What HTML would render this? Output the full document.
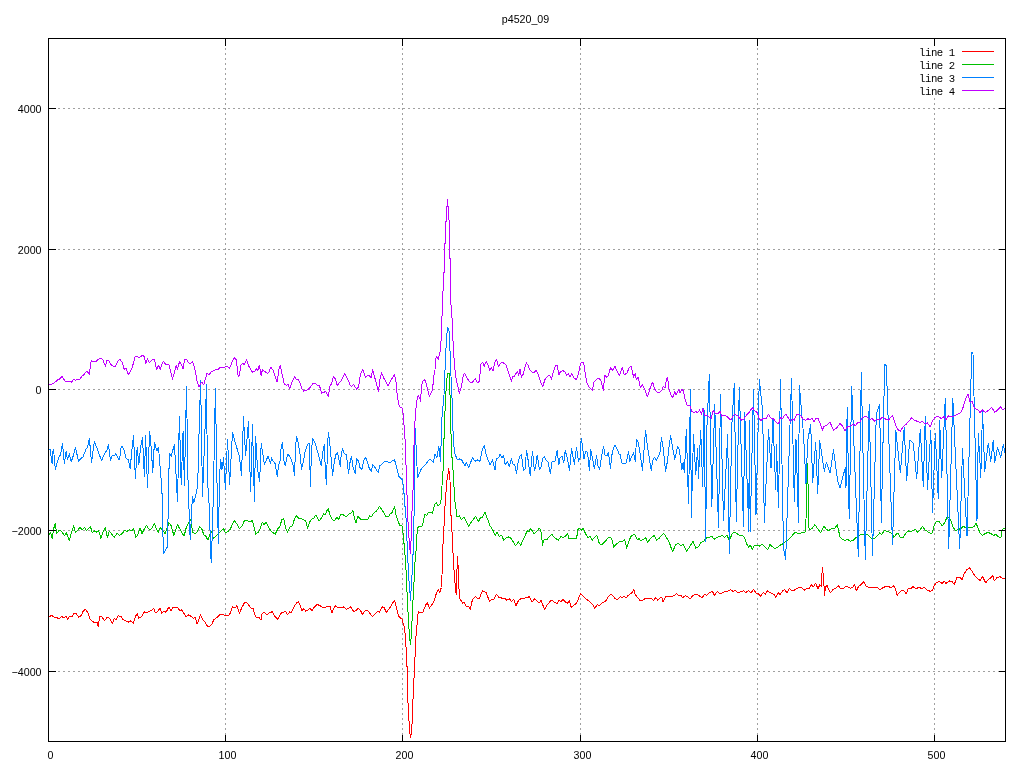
<!DOCTYPE html>
<html><head><meta charset="utf-8"><title>p4520_09</title>
<style>
html,body{margin:0;padding:0;background:#fff;}
body{width:1024px;height:768px;overflow:hidden;position:relative;font-family:"Liberation Sans",sans-serif;}
svg{display:block;position:absolute;left:0;top:0;}
svg.txt{filter:grayscale(1);}
.t{font-family:"Liberation Sans",sans-serif;font-size:10.67px;fill:#000;}
.m{font-family:"Liberation Mono",monospace;font-size:10.67px;fill:#000;letter-spacing:-0.42px;}
.g{stroke:#a0a0a0;stroke-width:1;stroke-dasharray:2 3;fill:none;shape-rendering:crispEdges;}
.f{stroke:#000;stroke-width:1;fill:none;shape-rendering:crispEdges;}
.d{fill:none;stroke-width:1;stroke-linejoin:round;shape-rendering:crispEdges;}
</style></head><body>
<svg width="1024" height="768" viewBox="0 0 1024 768">
<rect x="0" y="0" width="1024" height="768" fill="#fff"/>
<line class="g" x1="225.5" y1="38" x2="225.5" y2="741.5"/>
<line class="g" x1="402.5" y1="38" x2="402.5" y2="741.5"/>
<line class="g" x1="580.5" y1="38" x2="580.5" y2="741.5"/>
<line class="g" x1="757.5" y1="38" x2="757.5" y2="741.5"/>
<line class="g" x1="934.5" y1="38" x2="934.5" y2="741.5"/>
<line class="g" x1="48" y1="108.5" x2="1005.5" y2="108.5"/>
<line class="g" x1="48" y1="249.5" x2="1005.5" y2="249.5"/>
<line class="g" x1="48" y1="389.5" x2="1005.5" y2="389.5"/>
<line class="g" x1="48" y1="530.5" x2="1005.5" y2="530.5"/>
<line class="g" x1="48" y1="671.5" x2="1005.5" y2="671.5"/>
<!--DATA-->
<polyline class="d" stroke="#ff0000" points="49.4,616.6 51.7,615.3 54.1,617.2 56.6,617.6 58.9,618.6 61.5,616.6 63.8,617.6 66.4,616.6 67.7,619.2 69.7,616.2 72.2,616.6 74.2,613.1 76.1,613.7 78.7,617.2 81.0,615.7 83.4,610.8 85.3,609.2 87.9,612.7 89.8,618.6 91.8,620.9 94.7,622.9 97.0,622.5 98.2,626.4 99.6,616.6 101.5,616.6 104.5,620.5 107.4,617.2 109.9,618.6 112.3,623.5 114.2,618.6 116.2,619.6 118.1,615.7 121.1,616.6 123.0,619.6 125.9,620.9 128.3,622.1 130.8,620.9 133.4,623.5 135.3,616.6 137.3,613.7 138.6,618.2 141.6,616.6 144.5,611.8 146.4,612.7 149.4,611.2 152.3,609.8 153.7,608.4 155.2,612.7 157.2,611.8 160.1,607.9 161.5,613.1 164.0,611.2 166.0,612.3 167.9,608.8 169.3,607.3 170.9,611.2 172.8,607.9 174.8,607.3 177.7,607.9 179.6,610.4 181.6,609.8 183.6,612.7 186.1,617.0 188.8,614.7 191.4,616.6 193.3,618.2 195.3,617.6 197.2,624.1 199.2,618.6 200.5,614.7 203.1,620.5 205.0,622.1 207.6,626.4 209.9,626.4 211.9,624.1 213.8,619.6 216.8,617.6 219.7,614.7 222.6,614.3 225.5,615.7 228.5,615.3 230.0,613.7 232.3,606.9 234.9,607.9 236.8,605.9 239.4,613.1 241.7,607.9 244.1,603.4 246.0,602.0 248.0,603.9 250.5,607.9 253.0,608.4 255.0,614.7 256.4,617.6 259.3,617.6 260.9,620.2 262.2,613.1 264.8,612.7 267.1,614.7 270.0,612.3 272.6,611.8 274.9,616.6 277.9,619.6 280.4,613.7 282.7,612.3 285.7,611.8 287.6,614.7 289.6,611.8 291.5,612.3 294.1,606.9 296.4,603.0 298.4,602.0 300.3,605.3 301.9,610.8 303.8,608.4 305.8,611.2 308.1,609.8 310.1,608.4 312.0,610.4 314.4,606.9 316.9,604.5 319.5,605.3 321.8,606.9 323.8,607.9 326.7,606.5 330.0,606.5 332.0,613.1 333.9,607.9 335.5,605.9 338.4,607.9 341.3,607.9 343.7,606.9 346.2,609.2 348.2,608.8 350.7,606.9 353.4,611.2 356.0,610.8 357.9,608.4 360.5,610.4 362.4,614.3 364.8,611.2 367.1,609.8 369.6,613.1 372.2,616.6 374.5,614.3 377.5,611.2 379.4,612.3 382.3,606.9 384.3,607.9 386.2,612.3 389.2,608.8 391.7,604.5 394.5,600.6 396.0,605.9 397.6,613.1 399.5,617.6 401.9,618.6 402.2,619.8 404.4,627.5 405.6,637.5 406.2,651.2 407.2,670.0 407.5,692.5 408.5,713.1 409.5,728.8 410.4,737.8 411.2,733.8 412.2,721.9 412.8,703.8 413.8,682.5 414.8,660.0 415.0,657.5 415.6,640.0 416.9,627.5 417.5,616.2 418.5,611.2 420.0,613.1 423.1,611.9 425.6,605.0 427.2,602.5 429.4,608.1 432.5,603.8 434.4,600.6 436.2,593.8 438.1,589.4 440.0,592.5 440.6,589.4 441.5,587.5 441.9,580.0 442.5,553.8 443.5,535.0 444.4,518.8 445.2,501.9 447.0,480.0 448.8,468.8 450.0,480.0 450.2,500.0 451.2,518.8 452.1,533.8 453.1,555.0 454.0,570.0 455.0,582.5 456.0,593.1 456.5,594.4 456.9,586.2 456.9,572.5 457.5,556.9 458.1,566.2 458.5,580.0 459.4,596.0 460.0,598.8 462.5,603.1 464.4,602.5 466.2,606.2 468.8,606.9 470.2,609.4 472.5,599.4 475.6,596.2 477.5,598.5 479.4,598.5 482.5,590.6 486.2,592.5 489.4,601.2 491.9,599.4 493.8,599.4 496.5,594.4 498.8,597.2 500.6,597.5 502.3,598.6 504.9,598.2 506.8,600.2 509.4,598.6 511.3,601.5 513.7,599.6 516.0,605.4 518.6,600.5 521.5,598.2 524.4,598.2 527.3,597.6 529.3,596.6 532.2,602.1 534.8,598.6 537.1,600.9 539.1,602.9 541.0,600.5 544.5,609.3 546.9,605.4 550.4,600.9 552.7,600.9 555.1,602.5 557.0,604.1 558.6,600.5 560.9,601.5 562.9,599.6 565.4,602.1 567.4,603.5 569.3,600.9 571.3,607.4 573.8,605.4 576.6,602.9 578.5,598.6 580.5,593.7 582.4,595.7 585.0,598.2 587.9,600.2 590.8,602.9 593.4,605.4 594.7,608.4 597.3,604.8 599.6,605.4 602.5,602.5 605.5,601.5 608.4,596.6 610.9,594.3 612.9,595.7 615.2,598.6 617.6,599.6 620.1,596.6 622.1,597.6 624.0,596.2 626.0,598.2 627.9,595.7 630.5,593.7 632.4,592.3 633.8,589.4 635.2,594.3 637.7,597.6 640.2,600.9 642.6,600.5 645.5,598.2 648.4,598.6 651.4,598.2 653.3,600.5 655.9,597.6 657.8,600.2 659.8,598.2 661.7,597.0 663.1,602.1 665.6,596.6 668.4,596.2 670.9,596.6 673.8,595.7 676.8,593.7 678.7,595.7 680.7,595.1 682.6,597.6 685.5,595.7 687.9,596.6 690.0,599.3 692.9,595.4 695.9,594.1 698.8,595.4 702.1,598.0 704.6,594.1 706.6,595.4 709.5,592.5 712.5,591.5 714.4,595.4 717.3,591.5 719.3,593.5 722.2,592.9 725.2,591.5 728.1,590.9 730.6,589.6 733.0,591.5 735.3,590.2 737.9,592.9 740.8,591.5 743.7,590.9 745.7,592.5 748.6,590.5 750.9,592.9 753.5,589.6 756.0,592.9 758.4,593.5 760.3,596.4 763.2,592.5 765.2,594.5 767.7,590.5 769.7,592.5 772.0,593.5 774.4,594.5 775.9,597.4 778.3,592.9 780.2,594.5 782.8,590.5 784.7,589.6 787.1,592.9 789.2,588.6 791.6,590.2 793.5,590.9 796.4,588.6 799.4,587.6 801.7,587.6 804.3,590.2 806.8,588.2 809.1,588.6 811.1,584.7 813.4,586.6 815.6,583.3 817.9,588.6 819.9,584.7 821.2,586.6 822.4,567.1 823.2,574.9 823.8,580.8 824.4,595.4 825.7,586.6 827.1,585.7 829.1,590.5 830.6,592.9 833.0,589.6 835.5,588.2 838.4,585.7 840.8,589.0 843.3,588.6 845.3,586.6 847.8,587.0 850.2,588.2 852.5,587.6 854.5,584.7 856.4,590.9 858.4,586.6 860.9,584.7 863.4,581.8 863.5,581.5 866.0,586.0 868.9,587.4 871.9,587.4 874.8,587.4 877.1,587.0 879.7,589.9 882.6,588.0 885.5,586.4 888.5,586.8 891.4,587.4 893.3,585.4 895.3,588.4 897.2,595.2 899.8,592.3 902.1,589.9 904.5,591.3 906.0,594.2 908.4,588.0 910.9,588.4 912.9,586.4 915.8,588.8 918.7,587.4 921.7,588.4 924.6,587.4 927.5,590.3 930.4,591.3 932.4,590.3 934.4,585.4 936.3,582.5 939.2,581.5 942.2,583.5 944.1,580.9 946.1,583.5 949.0,580.9 951.9,581.5 954.3,584.5 956.8,577.6 959.7,577.0 962.3,579.6 964.2,573.7 966.6,569.8 969.5,567.9 972.0,571.2 974.8,575.7 977.3,578.2 980.2,580.5 982.6,576.6 985.7,582.9 988.1,579.6 991.0,577.6 992.9,575.7 994.3,580.9 996.9,577.6 999.8,576.6 1002.7,578.2 1004.7,578.2"/>
<polyline class="d" stroke="#00c000" points="49.4,534.5 50.7,532.5 52.1,538.8 53.7,528.6 55.2,523.1 56.6,533.5 58.6,530.9 60.5,530.5 62.5,532.5 64.4,536.0 66.4,532.9 69.3,540.3 71.2,533.5 73.6,525.7 75.5,532.5 78.1,529.6 80.0,527.6 82.0,529.6 84.5,527.6 86.5,530.5 88.4,528.6 90.4,526.6 92.3,532.5 94.7,530.9 96.6,532.1 98.6,530.5 100.9,538.4 102.9,532.5 105.4,527.6 107.4,537.4 109.3,531.5 111.3,533.5 114.2,537.4 117.1,533.5 119.7,535.4 122.0,533.5 125.0,530.2 126.9,531.5 129.5,529.6 131.8,530.9 133.8,528.6 135.7,537.4 137.7,535.4 140.0,527.6 142.0,533.5 144.5,528.6 146.4,525.1 148.4,528.6 150.4,529.6 152.3,527.6 154.3,523.1 156.2,528.6 158.2,532.5 160.1,527.6 162.1,529.6 165.0,533.5 167.0,528.6 168.9,522.7 171.2,525.7 173.8,535.4 175.7,529.6 177.7,524.7 179.6,528.6 182.2,533.5 184.1,536.0 186.5,526.6 188.8,522.7 190.8,519.8 192.7,532.5 195.3,533.5 197.2,532.1 199.8,526.6 201.7,528.6 203.7,534.5 206.0,536.4 208.0,540.3 209.9,534.5 211.9,531.5 213.4,538.4 215.8,536.4 218.7,533.5 221.2,530.5 223.6,528.6 225.5,532.9 227.5,531.5 229.5,530.5 230.0,529.6 232.3,524.7 234.3,520.8 236.8,523.7 239.4,528.6 241.7,526.6 244.1,521.2 246.0,519.8 248.0,521.2 250.5,521.2 252.5,520.8 254.4,528.6 255.8,534.1 258.3,532.1 260.3,528.6 262.2,522.3 264.2,524.7 266.1,522.3 268.7,527.6 271.0,530.9 273.4,532.9 275.3,534.1 277.9,528.6 279.8,526.6 281.8,519.8 283.7,518.4 285.7,528.6 287.6,532.1 290.2,526.6 292.5,525.7 294.5,518.8 296.4,515.9 298.8,518.4 301.3,518.8 303.8,519.8 305.8,521.2 307.7,528.2 310.1,521.2 312.0,518.8 314.0,517.9 315.9,514.9 318.9,521.2 321.4,517.9 323.4,513.9 325.3,514.5 326.7,511.0 328.2,508.7 330.0,514.9 332.5,519.8 334.5,520.8 337.0,516.9 338.4,519.8 340.9,514.5 343.3,514.9 346.2,516.5 349.1,513.9 351.5,512.6 353.0,510.6 354.6,518.8 356.0,523.1 357.9,515.9 359.9,518.8 362.8,519.8 365.7,519.2 367.7,519.8 369.6,515.9 371.6,516.5 373.6,513.4 376.5,511.0 379.4,506.5 381.4,509.1 383.3,512.0 385.9,516.5 388.2,516.9 390.2,513.9 392.1,512.6 394.5,506.5 396.0,514.9 398.0,521.2 399.9,525.7 401.9,525.7 401.9,525.6 403.1,533.8 404.4,547.5 405.6,562.5 406.5,580.0 407.2,596.0 407.5,602.5 408.5,621.2 409.5,636.2 410.4,644.8 411.2,637.5 411.9,623.8 412.8,603.8 413.8,583.8 414.4,580.0 415.0,562.5 416.2,548.8 416.9,535.0 418.1,526.9 420.0,526.9 421.9,526.2 423.1,522.5 425.0,513.8 426.9,515.6 428.1,512.5 430.0,511.9 432.5,513.1 434.4,505.0 436.2,502.5 438.1,505.6 440.0,503.8 441.0,500.0 443.4,466.0 443.8,445.0 444.6,420.0 445.6,398.1 446.6,381.9 447.5,373.5 449.5,373.5 449.8,381.9 450.0,395.0 450.6,407.5 450.9,431.2 451.9,456.2 452.8,466.0 454.8,500.0 455.6,506.2 456.9,516.2 457.4,516.9 459.4,515.9 461.3,519.8 464.1,517.3 466.6,521.8 468.6,526.2 471.5,521.8 473.8,518.8 475.8,516.3 478.3,521.8 480.9,516.9 482.2,517.9 484.8,512.0 487.1,517.9 490.0,525.7 493.0,530.5 495.3,535.4 496.9,532.1 499.2,536.4 501.8,535.4 503.7,540.3 506.2,538.0 509.0,536.8 511.5,538.8 515.4,545.8 518.4,541.9 520.7,545.2 522.7,540.3 525.2,535.4 527.1,530.9 529.1,531.5 530.7,528.2 534.0,534.1 536.9,530.9 539.5,528.2 541.4,532.5 542.4,545.2 544.1,539.3 546.7,539.9 549.6,536.4 551.6,534.1 554.5,537.4 557.0,539.3 558.4,540.3 560.9,536.4 563.3,537.4 565.6,536.0 567.6,533.5 569.1,538.8 572.1,538.4 576.6,538.4 577.9,529.6 579.3,528.2 581.2,530.5 583.2,528.2 585.2,532.9 587.7,537.4 590.2,536.4 592.2,540.3 594.5,537.4 596.9,535.4 599.4,543.8 602.0,544.6 605.3,541.3 607.8,538.0 610.2,537.4 611.7,538.4 613.7,547.1 616.4,544.2 619.9,541.3 622.9,541.3 624.8,539.9 626.8,548.1 628.7,541.3 631.2,536.0 634.6,534.1 637.1,539.3 639.5,538.8 640.0,540.3 642.9,539.9 645.5,537.4 647.8,542.3 650.7,538.4 654.1,535.4 656.6,540.3 659.5,538.0 661.9,534.8 663.8,533.5 666.4,537.4 669.3,542.3 671.2,548.1 672.8,552.0 675.2,545.2 678.1,543.2 681.0,546.2 683.0,544.2 686.5,551.1 688.8,548.1 691.2,544.2 693.1,541.3 695.7,548.1 698.6,546.6 700.9,542.3 703.5,541.3 706.4,538.0 709.3,537.4 711.9,536.4 714.2,539.3 717.1,537.4 720.1,536.4 722.0,535.4 724.4,537.4 726.9,535.4 729.5,540.3 731.8,534.5 734.1,532.1 736.7,533.5 739.6,535.4 742.5,535.4 744.5,537.4 746.4,543.2 748.4,547.1 750.4,545.2 752.3,549.1 754.3,545.2 757.2,545.2 760.1,546.2 762.1,543.8 765.0,547.1 767.9,549.7 769.9,544.2 772.8,547.1 774.8,548.5 777.7,547.1 780.2,545.2 782.2,544.2 784.1,542.3 786.5,541.3 789.4,538.8 792.3,535.4 795.3,532.1 798.2,533.5 801.1,532.9 805.0,532.1 806.0,518.8 806.6,489.5 807.4,463.0 808.2,489.5 808.6,518.8 809.1,529.6 811.9,528.6 814.8,524.7 817.7,528.6 820.7,532.9 823.6,526.6 824.0,525.7 826.3,529.6 828.9,530.5 831.8,528.6 834.7,528.2 837.3,524.7 838.6,530.5 840.0,537.4 842.6,539.3 845.1,540.7 847.4,539.3 850.4,541.3 853.3,540.3 856.2,537.4 858.8,535.4 862.1,534.5 865.0,534.1 867.9,534.8 870.9,538.0 873.8,538.8 876.7,536.4 879.7,532.9 881.6,534.5 884.5,530.2 886.9,531.5 889.4,532.1 892.0,533.5 893.9,537.4 896.3,534.1 898.2,533.5 900.6,538.0 903.1,537.4 905.6,533.5 908.0,530.9 910.9,531.5 913.5,530.2 915.8,529.6 917.8,532.5 920.1,529.6 922.6,526.6 925.2,530.2 927.5,531.5 930.4,533.5 932.4,532.9 934.4,524.7 936.3,521.8 939.2,521.8 942.2,525.7 944.7,522.7 946.7,517.9 949.0,516.9 951.0,521.2 952.9,526.6 955.2,530.5 957.8,529.6 960.7,528.6 963.1,526.2 965.6,527.6 968.5,527.2 971.5,527.6 974.0,526.6 976.0,523.1 978.3,528.6 980.2,533.5 982.6,535.4 985.1,533.5 988.1,532.5 991.0,533.5 993.5,535.4 995.9,534.5 998.2,536.8 1000.8,538.0 1002.1,529.6 1004.7,528.2"/>
<polyline class="d" stroke="#0080ff" points="48.5,449.8 50.2,449.4 52.1,463.8 53.1,449.4 54.0,454.4 55.4,469.8 57.1,462.5 58.8,457.5 60.6,454.4 62.5,443.5 64.4,463.8 66.2,451.2 67.5,460.0 69.4,453.8 71.2,461.9 73.1,456.2 75.4,447.2 78.5,461.2 81.9,457.5 83.1,456.9 85.6,450.0 87.5,446.9 89.4,438.5 91.5,462.5 94.4,441.2 96.2,446.2 101.5,460.6 105.0,453.1 106.9,450.0 108.5,444.4 110.4,460.6 112.2,455.0 114.0,456.2 115.6,453.8 117.5,456.9 119.4,460.0 121.2,446.9 122.5,446.5 124.4,451.2 126.2,458.8 128.1,459.4 130.2,468.5 131.9,450.0 133.5,435.6 135.4,478.5 137.2,447.5 138.8,465.0 140.6,447.5 142.5,437.5 144.4,476.9 145.6,435.6 147.5,487.5 149.6,431.5 150.6,439.8 152.8,472.2 154.4,442.2 156.9,451.0 158.5,447.2 161.9,488.5 163.4,553.5 167.5,546.6 168.8,477.2 169.4,453.5 171.2,456.6 174.4,444.1 176.2,477.2 177.5,501.6 179.4,416.2 181.2,484.8 183.1,431.0 184.4,485.4 186.5,387.0 188.1,484.8 190.2,539.8 191.9,506.0 192.5,496.6 193.8,502.2 196.9,491.0 198.1,472.2 198.8,441.0 200.6,380.4 202.5,496.6 204.6,441.0 206.5,385.0 207.5,481.0 209.4,508.5 210.6,551.0 211.2,562.9 212.5,528.5 213.5,487.2 215.4,388.2 217.5,511.0 218.5,543.5 219.4,479.8 220.6,459.1 221.9,469.8 223.5,457.9 225.4,489.1 227.5,439.1 229.6,484.8 232.5,432.2 236.2,446.0 239.4,456.0 241.5,475.4 243.5,417.0 245.6,456.0 248.5,421.2 250.6,491.6 252.5,425.0 254.4,501.6 255.6,436.2 257.5,468.5 259.6,481.6 261.2,443.2 264.4,464.8 268.1,456.0 270.6,463.5 271.5,457.5 273.1,461.2 275.2,463.8 277.2,476.5 278.5,465.6 280.0,461.2 281.2,446.9 282.5,442.5 283.8,460.0 285.2,465.6 287.5,454.4 289.4,455.6 291.2,459.4 293.1,465.0 294.5,475.6 295.6,446.2 296.5,436.5 298.1,442.5 300.0,453.8 301.5,469.4 303.1,462.5 305.0,452.5 306.5,446.9 308.1,443.5 309.4,443.5 310.4,486.5 311.5,450.0 312.8,438.5 315.0,443.1 317.5,451.2 319.4,458.8 321.2,465.6 323.1,450.0 324.4,444.4 325.4,472.5 326.5,484.8 327.5,445.0 328.5,432.2 329.8,443.8 331.2,458.8 332.5,475.6 334.4,461.2 336.0,454.4 337.5,452.5 338.8,458.8 340.2,466.2 341.2,455.0 342.5,448.1 344.4,453.8 346.2,454.4 347.5,463.8 348.5,473.5 350.0,462.5 351.5,456.5 353.1,467.5 355.2,473.5 356.6,458.5 358.5,461.2 360.0,467.5 361.9,469.4 363.8,460.6 365.6,457.5 367.5,462.5 369.4,468.8 371.2,471.2 372.8,464.4 375.0,467.5 378.1,472.5 379.8,465.6 380.0,466.2 385.0,461.2 390.0,462.5 394.5,459.5 398.8,476.2 402.5,480.0 403.8,490.0 404.4,500.0 405.6,512.5 406.5,525.0 407.3,550.0 408.1,565.0 409.0,581.0 410.0,592.5 410.4,600.6 411.3,586.0 412.3,570.0 413.1,552.5 413.8,525.0 414.4,500.0 415.0,427.5 416.3,450.0 417.5,478.0 421.3,468.8 425.0,465.0 430.0,458.8 433.3,462.5 435.0,453.8 437.0,457.5 438.8,446.3 440.5,461.3 442.0,417.5 444.0,395.0 444.8,376.0 445.6,355.0 446.6,337.5 447.5,327.3 448.5,329.4 449.5,332.5 449.5,350.0 450.5,352.5 450.5,370.0 451.5,382.5 452.3,406.3 452.9,428.8 453.8,445.0 455.0,453.8 457.1,459.4 459.4,459.0 461.3,459.4 463.1,462.5 465.0,466.0 466.3,462.5 468.8,467.5 472.5,457.5 475.0,461.3 477.5,460.0 480.0,461.3 481.3,455.0 482.5,448.8 484.3,445.0 486.3,455.0 490.0,465.0 492.5,460.0 495.0,470.0 496.3,458.8 498.8,457.5 500.0,453.8 501.9,457.5 503.5,455.6 505.2,465.0 507.2,461.5 509.4,466.2 511.5,458.8 513.1,464.4 514.8,465.0 516.5,473.5 518.5,460.0 520.0,456.2 521.5,454.4 523.5,470.6 525.0,469.4 526.5,450.2 528.1,460.0 530.2,475.6 532.5,451.2 534.4,470.6 535.6,467.5 537.2,455.0 539.4,469.4 541.2,466.9 542.8,458.1 544.4,456.9 546.2,460.6 548.1,461.9 550.4,473.5 552.2,461.2 555.0,461.0 557.2,450.6 558.8,465.0 560.0,458.1 561.9,456.2 563.8,462.5 565.2,450.6 567.5,458.8 569.5,470.6 571.5,448.5 574.4,464.4 576.5,447.5 578.5,461.2 580.0,458.1 581.2,438.1 582.5,446.2 584.0,459.4 585.6,451.2 587.5,452.5 589.4,470.6 590.6,449.4 592.5,458.8 594.4,468.5 596.5,455.6 598.1,466.2 599.6,469.4 601.2,458.8 603.5,446.5 605.0,455.0 606.9,455.6 608.5,452.5 610.4,468.5 611.9,455.0 613.5,448.1 615.2,445.2 617.5,450.0 619.4,455.0 620.0,454.4 622.2,463.8 626.2,463.1 628.5,451.2 629.8,461.2 633.5,452.5 635.2,461.2 636.5,439.4 638.5,443.1 642.5,470.6 643.8,452.5 645.6,430.2 646.9,442.5 651.2,470.6 652.8,460.0 654.4,457.5 656.5,460.0 659.8,453.8 661.5,437.2 663.1,447.5 665.6,471.2 667.2,462.5 669.0,447.5 670.6,435.4 672.5,447.5 674.8,459.4 677.5,446.5 679.4,450.0 681.9,469.4 683.1,462.5 684.4,472.5 686.3,429.2 688.5,503.8 690.5,389.2 691.3,517.7 693.5,434.2 695.7,474.7 697.7,448.3 698.5,478.8 700.7,430.0 702.7,486.3 704.0,408.3 705.7,541.3 706.8,430.0 709.3,374.2 711.8,506.3 714.7,404.2 718.5,527.7 720.5,395.0 723.5,520.5 727.7,434.2 729.3,553.3 731.8,425.8 734.3,383.0 736.3,521.3 739.3,387.2 743.5,526.3 744.7,412.0 748.8,531.3 749.3,420.8 750.2,531.3 753.5,389.2 756.0,514.7 759.3,379.2 762.7,411.7 764.3,522.2 768.5,429.2 771.0,468.0 773.0,419.2 775.7,489.7 776.5,445.0 778.5,507.2 780.5,379.2 783.5,548.0 785.7,559.3 791.5,378.3 794.3,501.3 796.0,439.2 798.5,522.7 799.3,385.0 803.5,434.2 806.0,483.8 807.7,440.8 810.7,424.2 812.7,482.2 815.7,442.0 817.7,493.3 819.7,440.8 824.3,471.3 826.5,462.5 830.2,473.0 833.5,450.0 837.7,481.3 840.0,488.0 845.3,467.5 846.0,487.5 847.2,407.0 849.2,518.8 851.7,386.3 858.3,556.7 861.3,372.0 865.3,559.3 869.2,404.2 872.5,555.5 876.3,414.2 879.7,404.2 881.3,522.2 884.7,364.2 886.3,365.8 892.5,544.7 895.8,430.0 900.3,473.0 904.2,427.5 906.7,480.5 909.7,440.0 913.3,443.3 916.7,478.8 920.3,429.2 923.3,486.3 925.3,416.3 927.5,489.3 930.8,430.0 932.5,512.7 935.3,433.3 938.3,498.8 939.7,420.8 941.7,478.0 945.3,398.0 948.7,548.8 952.8,398.3 959.7,548.8 962.5,448.3 967.0,536.3 971.7,352.0 973.0,354.2 977.0,520.5 978.3,433.0 980.8,477.2 982.5,410.0 984.7,471.3 988.3,443.3 990.8,461.3 993.3,440.0 994.7,463.0 997.5,447.5 1000.8,457.2 1003.3,444.2 1005.0,453.0"/>
<polyline class="d" stroke="#c000ff" points="48.8,384.7 50.2,384.5 52.1,384.1 54.6,382.6 57.6,380.0 59.5,379.1 62.1,376.3 65.0,381.0 67.3,382.0 69.3,381.0 71.2,382.2 73.6,379.6 75.2,380.2 77.1,379.5 80.0,379.1 82.0,376.1 83.4,375.7 85.3,372.2 87.5,371.8 89.2,374.2 91.2,360.3 93.1,361.5 95.7,361.9 98.6,359.1 101.5,358.4 102.9,359.9 105.4,366.4 106.8,360.3 108.8,360.3 110.7,364.4 113.2,366.4 115.2,366.8 117.7,361.1 119.7,359.1 122.0,362.1 124.4,369.7 125.9,368.3 128.3,374.6 131.8,368.9 135.1,357.0 136.7,356.4 138.6,357.6 140.6,356.6 142.9,355.2 144.5,357.2 145.7,363.8 147.4,358.6 149.4,362.5 151.7,360.3 154.3,359.1 156.6,369.3 158.6,365.4 160.1,369.3 162.1,363.4 163.6,361.5 166.0,365.0 168.9,364.4 172.4,379.1 174.8,371.2 176.1,365.4 177.3,369.3 179.6,361.5 181.6,365.4 183.2,368.9 184.5,359.1 186.9,360.1 188.8,363.0 191.4,363.0 192.7,361.5 195.3,371.2 197.2,382.0 199.2,386.9 200.5,383.4 201.7,382.0 203.7,384.9 207.0,373.2 208.9,374.6 211.9,371.2 213.8,370.9 215.8,369.3 217.7,369.7 220.7,367.0 224.6,367.3 226.9,366.4 229.5,368.3 230.0,367.3 232.3,361.5 234.3,357.6 236.2,359.5 238.2,376.1 239.4,375.2 240.7,365.4 242.7,363.0 244.1,365.0 246.6,359.5 248.0,364.4 250.5,369.3 252.5,372.2 254.4,371.8 256.4,368.3 257.7,370.9 259.3,365.4 261.2,376.1 262.4,369.3 264.8,371.6 267.1,373.2 268.7,372.8 270.6,367.3 273.0,369.7 275.9,379.1 277.3,382.0 278.8,369.3 280.4,365.4 281.8,373.2 284.3,383.9 286.6,385.3 288.0,384.5 289.6,388.8 292.1,382.0 294.5,376.5 296.4,380.0 298.4,379.6 300.3,383.9 301.9,388.8 303.8,391.2 306.2,390.4 308.1,389.8 310.5,386.9 313.0,383.4 315.0,383.4 316.9,384.9 319.5,385.9 321.8,393.1 323.8,392.7 325.7,391.2 328.2,396.2 330.0,385.9 331.6,383.9 333.5,376.5 335.5,379.1 337.4,385.9 339.8,382.0 341.7,380.0 344.8,373.6 347.2,378.1 350.1,384.9 351.5,386.9 353.6,384.5 356.6,389.2 358.5,386.9 360.5,374.2 362.8,369.7 365.4,377.1 369.1,374.8 371.0,378.1 372.6,369.7 374.9,378.1 378.4,391.2 380.0,379.1 381.6,372.8 384.3,379.1 388.2,385.9 391.1,380.0 394.5,374.2 396.0,382.0 396.2,386.2 397.5,396.9 399.4,406.9 401.9,407.5 403.1,413.8 404.0,425.0 405.2,441.2 407.2,500.0 408.1,525.0 409.0,537.5 410.0,550.0 410.4,553.1 411.2,537.5 411.9,512.5 412.8,500.0 413.8,451.2 414.6,427.5 415.6,411.2 416.9,400.0 418.1,395.6 419.4,397.5 420.6,401.2 421.5,386.2 423.1,380.6 425.0,379.8 426.2,383.8 429.4,396.2 432.5,390.0 433.8,376.2 435.0,370.0 435.2,360.0 436.5,356.2 438.1,359.4 440.6,350.0 441.5,330.0 442.5,302.5 443.5,280.0 443.5,286.0 443.5,272.5 444.5,272.5 444.5,243.1 445.5,243.1 445.5,221.2 446.5,221.2 446.5,206.9 447.2,206.9 447.5,200.0 448.0,206.9 448.8,206.9 448.8,220.0 449.8,220.0 449.8,258.8 450.8,258.8 450.8,286.0 450.8,280.0 450.8,305.0 451.5,305.0 452.5,330.0 453.5,351.2 454.5,365.0 455.6,376.0 455.6,376.2 457.5,385.0 459.4,393.4 461.2,387.5 463.1,376.2 464.6,373.1 466.2,376.2 466.6,377.1 469.5,382.0 472.5,382.0 475.4,378.7 477.7,383.0 479.3,381.4 480.9,364.4 482.8,362.5 484.2,366.4 486.1,361.5 488.1,365.4 489.6,370.3 491.4,367.3 493.0,371.2 494.5,363.0 496.5,359.5 498.4,366.4 500.8,363.0 502.7,362.5 505.7,364.4 508.6,373.2 511.5,381.0 512.5,376.5 514.5,376.1 517.4,371.2 518.8,375.2 519.9,368.9 521.3,377.1 523.2,374.2 524.8,367.3 526.6,363.0 528.1,365.4 530.1,370.3 532.0,372.2 534.0,372.8 535.9,370.3 538.3,374.2 540.2,381.0 542.8,386.9 544.7,380.0 547.7,376.1 549.6,375.5 551.6,379.1 553.5,371.2 555.5,365.4 557.4,365.4 558.8,374.8 560.7,371.2 563.3,370.9 565.2,372.2 566.8,375.2 568.2,373.6 570.1,377.1 571.5,373.6 574.0,378.1 576.6,379.6 578.5,373.2 580.5,363.4 581.8,362.5 583.8,363.0 585.2,373.2 586.7,382.0 588.7,386.9 590.6,388.4 592.2,390.4 594.1,382.0 596.5,379.1 598.8,378.1 600.8,380.6 603.3,390.4 604.7,375.2 606.2,377.1 608.2,376.1 610.5,367.7 612.5,370.3 615.0,366.4 617.6,372.2 619.5,375.2 622.3,367.3 624.2,374.8 626.8,373.2 629.3,367.7 631.2,366.4 633.6,377.1 635.2,373.6 636.5,380.0 638.1,377.1 640.4,387.9 642.3,384.9 644.9,389.8 647.4,396.6 650.2,387.9 652.7,382.0 654.6,388.8 657.2,392.3 659.1,393.1 661.5,390.8 663.4,386.5 665.0,387.9 666.4,380.0 667.5,377.1 668.9,388.8 671.2,395.7 672.8,397.6 674.8,391.8 676.1,394.7 678.7,389.8 680.0,392.7 682.0,388.8 683.4,391.2 685.3,400.5 687.3,405.4 689.8,405.4 691.8,411.3 693.7,412.7 695.7,411.3 697.6,412.7 699.6,409.9 701.5,414.2 702.9,408.8 704.8,415.2 707.4,415.2 709.3,417.1 711.3,418.1 713.2,410.3 715.2,413.2 718.1,413.8 720.1,411.3 721.6,416.2 724.0,415.2 726.9,416.6 729.5,419.1 730.8,420.1 732.8,416.2 734.7,414.6 737.7,415.8 739.6,418.1 741.6,420.1 743.5,419.7 746.4,415.2 749.4,412.3 752.3,407.4 754.3,410.3 757.2,412.7 759.1,418.1 761.1,421.1 763.0,418.1 766.0,419.1 768.5,414.2 770.9,418.1 773.8,419.1 776.7,423.0 778.7,423.6 780.6,417.1 782.2,419.1 784.5,415.2 786.1,414.2 788.4,418.1 790.4,422.0 792.3,419.1 794.3,420.1 796.2,415.2 798.2,414.2 800.5,415.2 803.1,419.1 805.6,420.1 808.0,418.7 809.9,419.7 812.3,418.5 813.8,422.0 815.8,418.7 818.1,418.7 820.1,423.0 822.6,430.2 824.0,426.3 826.9,425.0 829.9,422.0 833.4,430.2 836.7,427.9 840.0,423.6 842.6,425.9 845.1,430.8 847.4,426.9 850.4,425.9 853.3,424.0 855.2,425.9 858.2,422.0 860.1,422.0 862.1,418.1 865.0,416.2 867.4,417.1 869.9,419.7 871.9,418.5 874.4,421.1 877.1,419.1 879.7,419.7 882.6,417.1 885.5,419.1 888.5,420.1 892.4,415.2 894.7,422.0 897.2,428.9 900.2,431.4 903.1,426.9 906.0,424.4 909.0,421.1 911.5,417.7 913.8,420.1 916.8,421.1 919.7,422.4 922.6,421.6 924.6,423.6 927.5,423.0 930.4,426.9 932.4,421.1 935.3,417.1 938.3,416.6 941.2,418.5 944.1,416.6 946.1,420.1 948.0,415.8 951.0,417.1 953.9,416.2 956.8,414.6 960.7,412.7 963.1,407.4 965.6,398.6 968.1,394.3 970.1,402.5 972.4,401.5 974.4,408.4 977.3,409.3 980.2,412.7 982.2,409.9 985.1,412.3 989.0,410.3 991.6,407.4 994.9,412.3 997.8,409.9 1000.8,406.4 1002.7,409.9 1004.7,408.4"/>
<rect x="916" y="46" width="82" height="50" fill="#fff"/>
<line class="f" x1="225.5" y1="38.5" x2="225.5" y2="45.5"/>
<line class="f" x1="225.5" y1="741.5" x2="225.5" y2="734.5"/>
<line class="f" x1="402.5" y1="38.5" x2="402.5" y2="45.5"/>
<line class="f" x1="402.5" y1="741.5" x2="402.5" y2="734.5"/>
<line class="f" x1="580.5" y1="38.5" x2="580.5" y2="45.5"/>
<line class="f" x1="580.5" y1="741.5" x2="580.5" y2="734.5"/>
<line class="f" x1="757.5" y1="38.5" x2="757.5" y2="45.5"/>
<line class="f" x1="757.5" y1="741.5" x2="757.5" y2="734.5"/>
<line class="f" x1="934.5" y1="38.5" x2="934.5" y2="45.5"/>
<line class="f" x1="934.5" y1="741.5" x2="934.5" y2="734.5"/>
<line class="f" x1="48.5" y1="108.5" x2="55.5" y2="108.5"/>
<line class="f" x1="1005.5" y1="108.5" x2="998.5" y2="108.5"/>
<line class="f" x1="48.5" y1="249.5" x2="55.5" y2="249.5"/>
<line class="f" x1="1005.5" y1="249.5" x2="998.5" y2="249.5"/>
<line class="f" x1="48.5" y1="389.5" x2="55.5" y2="389.5"/>
<line class="f" x1="1005.5" y1="389.5" x2="998.5" y2="389.5"/>
<line class="f" x1="48.5" y1="530.5" x2="55.5" y2="530.5"/>
<line class="f" x1="1005.5" y1="530.5" x2="998.5" y2="530.5"/>
<line class="f" x1="48.5" y1="671.5" x2="55.5" y2="671.5"/>
<line class="f" x1="1005.5" y1="671.5" x2="998.5" y2="671.5"/>
<line x1="962" y1="51.5" x2="994" y2="51.5" stroke="#ff0000" stroke-width="1" shape-rendering="crispEdges"/>
<line x1="962" y1="64.5" x2="994" y2="64.5" stroke="#00c000" stroke-width="1" shape-rendering="crispEdges"/>
<line x1="962" y1="77.5" x2="994" y2="77.5" stroke="#0080ff" stroke-width="1" shape-rendering="crispEdges"/>
<line x1="962" y1="90.5" x2="994" y2="90.5" stroke="#c000ff" stroke-width="1" shape-rendering="crispEdges"/>
<rect class="f" x="48.5" y="38.5" width="957.0" height="703.0"/>
</svg>
<svg class="txt" width="1024" height="768" viewBox="0 0 1024 768">
<text class="t" x="525.5" y="23" text-anchor="middle">p4520_09</text>
<text class="t" x="50.5" y="759" text-anchor="middle">0</text>
<text class="t" x="227.5" y="759" text-anchor="middle">100</text>
<text class="t" x="404.5" y="759" text-anchor="middle">200</text>
<text class="t" x="582.5" y="759" text-anchor="middle">300</text>
<text class="t" x="759.5" y="759" text-anchor="middle">400</text>
<text class="t" x="936.5" y="759" text-anchor="middle">500</text>
<text class="t" x="41.5" y="113.0" text-anchor="end">4000</text>
<text class="t" x="41.5" y="254.0" text-anchor="end">2000</text>
<text class="t" x="41.5" y="394.0" text-anchor="end">0</text>
<text class="t" x="41.5" y="535.0" text-anchor="end">−2000</text>
<text class="t" x="41.5" y="676.0" text-anchor="end">−4000</text>
<text class="m" x="954.8" y="56.0" text-anchor="end">line 1</text>
<text class="m" x="954.8" y="69.0" text-anchor="end">line 2</text>
<text class="m" x="954.8" y="82.0" text-anchor="end">line 3</text>
<text class="m" x="954.8" y="95.0" text-anchor="end">line 4</text>
</svg>
</body></html>
